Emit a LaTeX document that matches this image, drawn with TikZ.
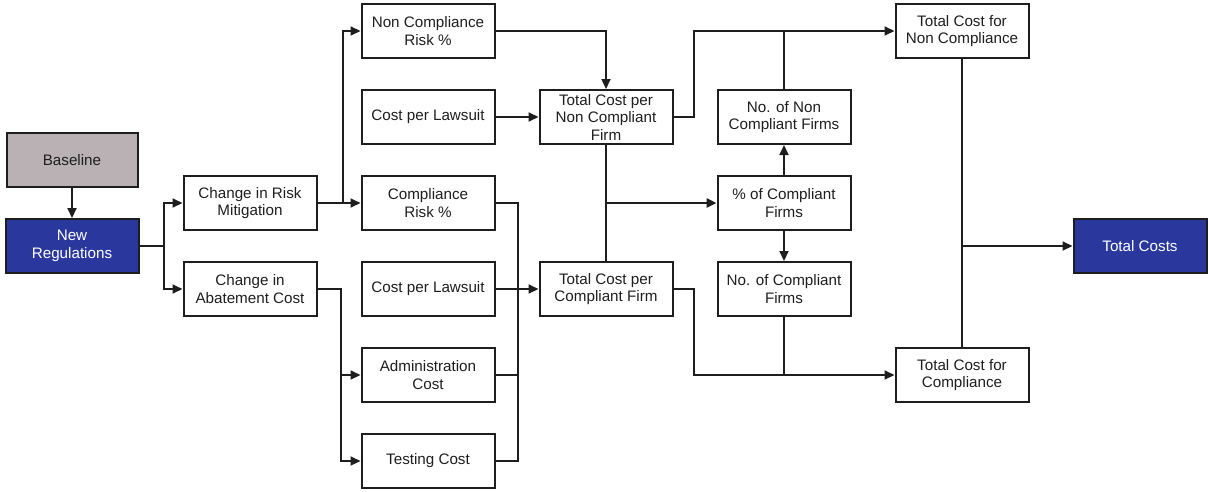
\documentclass[tikz,border=0pt]{standalone}
\usepackage{fontspec}
\setmainfont{Liberation Sans}
\usetikzlibrary{arrows.meta}
\definecolor{basegray}{RGB}{185,177,179}
\definecolor{regblue}{RGB}{42,56,158}
\definecolor{ink}{RGB}{30,30,30}
\begin{document}
\begin{tikzpicture}[x=1pt,y=-1pt,color=ink,line width=2pt,
  blk/.style={draw=ink,minimum width=133pt,minimum height=54pt,inner sep=1pt,align=center,
    font=\fontsize{15.2}{17.5}\selectfont},
  arr/.style={-{Triangle[length=10pt,width=9pt]}}]
\useasboundingbox (0,0) rectangle (1208,491);
\pgfmathsetmacro{\kx}{178}
\pgfmathsetmacro{\ky}{86}
% left column
\node[blk,fill=basegray,minimum width=131pt](base)at(72,160){Baseline};
\node[blk,fill=regblue,text=white](newreg)at(72,246){New\\Regulations};
\node[blk](crm)at(72+\kx,31+2*\ky){Change in Risk\\Mitigation};
\node[blk](cac)at(72+\kx,31+3*\ky){Change in\\Abatement Cost};
% inputs
\node[blk](ncr)at(72+2*\kx,31){Non Compliance\\Risk \%};
\node[blk](cpla)at(72+2*\kx,31+\ky){Cost per Lawsuit};
\node[blk](cr)at(72+2*\kx,31+2*\ky){Compliance\\Risk \%};
\node[blk](cplb)at(72+2*\kx,31+3*\ky){Cost per Lawsuit};
\node[blk](adm)at(72+2*\kx,31+4*\ky){Administration\\Cost};
\node[blk](test)at(72+2*\kx,31+5*\ky){Testing Cost};
% per firm
\node[blk](tcncf)at(72+3*\kx,31+\ky){Total Cost per\\Non Compliant\\Firm};
\node[blk](tccf)at(72+3*\kx,31+3*\ky){Total Cost per\\Compliant Firm};
\node[blk](nncf)at(72+4*\kx,31+\ky){No. of Non\\Compliant Firms};
\node[blk](pcf)at(72+4*\kx,31+2*\ky){\% of Compliant\\Firms};
\node[blk](ncf)at(72+4*\kx,31+3*\ky){No. of Compliant\\Firms};
% totals
\node[blk](tcnc)at(72+5*\kx,31){Total Cost for\\Non Compliance};
\node[blk](tcc)at(72+5*\kx,31+4*\ky){Total Cost for\\Compliance};
\node[blk,fill=regblue,text=white](tot)at(72+6*\kx,246){Total Costs};
% connectors
\draw[arr](base)--(newreg);
\draw[arr](newreg.east)--++(24,0)|-(crm);
\draw[arr](newreg.east)--++(24,0)|-(cac);
\draw[arr](crm)--(cr);
\draw[arr](crm.east)--++(25,0)|-(ncr);
\draw[arr](cac.east)--++(23,0)|-(adm);
\draw[arr](cac.east)--++(23,0)|-(test);
\draw[arr](ncr)-|(tcncf);
\draw[arr](cpla)--(tcncf);
\draw(cr.east)--++(22,0)|-(test);
\draw(adm.east)--++(22,0);
\draw[arr](cplb)--(tccf);
\draw(tcncf)--(tccf);
\draw[arr,line width=2.8pt](tcncf.south|-pcf)--(pcf);
\draw[arr](tcncf.east)--++(20,0)|-(tcnc);
\draw(nncf)--(nncf|-tcnc);
\draw[arr](pcf)--(nncf);
\draw[arr](pcf)--(ncf);
\draw[arr](tccf.east)--++(20,0)|-(tcc);
\draw(ncf)--(ncf|-tcc);
\draw(tcnc)--(tcc);
\draw[arr](tcnc.south|-tot)--(tot);
\end{tikzpicture}
\end{document}
